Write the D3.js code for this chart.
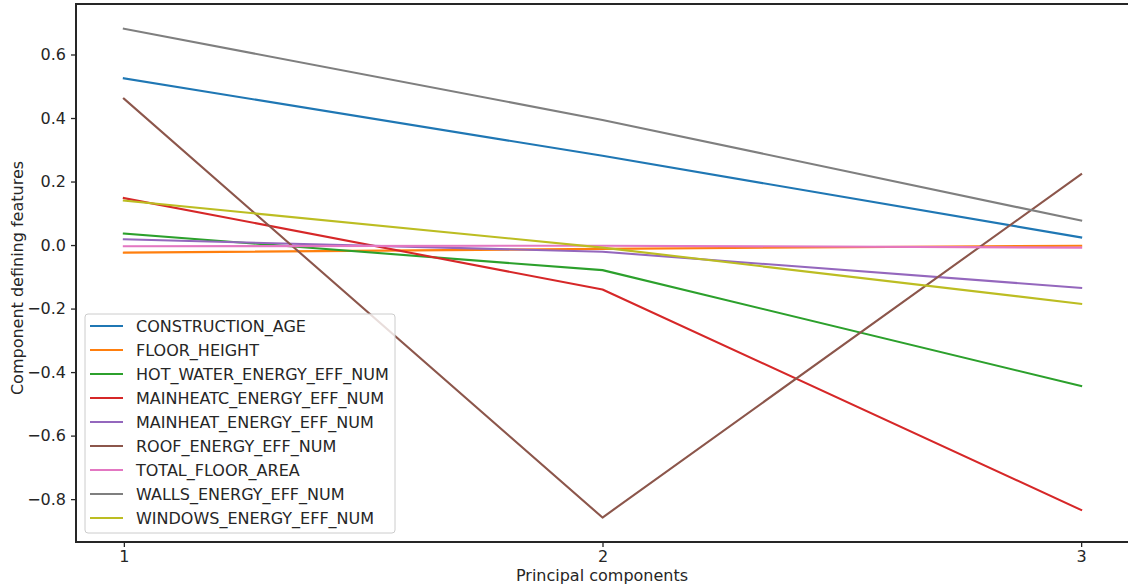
<!DOCTYPE html>
<html>
<head>
<meta charset="utf-8">
<script src="https://cdn.jsdelivr.net/npm/d3@7"></script>
<style>
  html, body { margin: 0; padding: 0; background: #ffffff; }
  svg text { font-family: "DejaVu Sans", sans-serif; fill: #262626; }
</style>
</head>
<body>
<svg id="chart" width="1128" height="586"></svg>
<script>
// Principal component indices
const components = [1, 2, 3];

// Feature names (legend order)
const features = [
  "CONSTRUCTION_AGE",
  "FLOOR_HEIGHT",
  "HOT_WATER_ENERGY_EFF_NUM",
  "MAINHEATC_ENERGY_EFF_NUM",
  "MAINHEAT_ENERGY_EFF_NUM",
  "ROOF_ENERGY_EFF_NUM",
  "TOTAL_FLOOR_AREA",
  "WALLS_ENERGY_EFF_NUM",
  "WINDOWS_ENERGY_EFF_NUM"
];

// Loadings of each feature on components 1..3
const constructionAge  = [0.525, 0.281, 0.024];
const floorHeight      = [-0.024, -0.012, -0.002];
const hotWaterEff      = [0.036, -0.079, -0.444];
const mainheatcEff     = [0.148, -0.140, -0.834];
const mainheatEff      = [0.018, -0.021, -0.135];
const roofEff          = [0.461, -0.858, 0.223];
const totalFloorArea   = [-0.004, -0.002, -0.008];
const wallsEff         = [0.681, 0.394, 0.077];
const windowsEff       = [0.140, -0.008, -0.185];

const seriesValues = [
  constructionAge, floorHeight, hotWaterEff, mainheatcEff, mainheatEff,
  roofEff, totalFloorArea, wallsEff, windowsEff
];

const yTicks = [-0.8, -0.6, -0.4, -0.2, 0.0, 0.2, 0.4, 0.6];

const palette = ["#1f77b4", "#ff7f0e", "#2ca02c", "#d62728", "#9467bd",
                 "#8c564b", "#e377c2", "#7f7f7f", "#bcbd22"];

const svg = d3.select("#chart");
const m = { left: 76, right: 1129, top: 4, bottom: 542 };

const x = d3.scaleLinear().domain([0.9, 3.1]).range([m.left, m.right]);
const y = d3.scaleLinear().domain([-0.935, 0.759]).range([m.bottom, m.top]);

const plot = svg.append("g");

// Series lines
const line = d3.line().x((d, i) => x(components[i])).y(d => y(d));
seriesValues.forEach((vals, k) => {
  plot.append("path")
    .datum(vals)
    .attr("d", line)
    .attr("fill", "none")
    .attr("stroke", palette[k])
    .attr("stroke-width", 2.1)
    .attr("stroke-linecap", "square")
    .attr("stroke-linejoin", "round");
});

// Axes
const fmt = d => (d < 0 ? "\u2212" : "") + Math.abs(d).toFixed(1);
const yAxis = d3.axisLeft(y).tickValues(yTicks).tickFormat(fmt).tickSize(5).tickPadding(5);
const xAxis = d3.axisBottom(x).tickValues(components).tickFormat(d3.format("d")).tickSize(5).tickPadding(4);

const gy = svg.append("g").attr("transform", `translate(${m.left},0)`).call(yAxis);
const gx = svg.append("g").attr("transform", `translate(0,${m.bottom})`).call(xAxis);
[gx, gy].forEach(g => {
  g.select(".domain").remove();
  g.selectAll(".tick line").attr("stroke", "#262626").attr("stroke-width", 1.3);
  g.selectAll(".tick text").style("font-size", "16px").attr("fill", "#262626");
});

// Frame
svg.append("rect")
  .attr("x", m.left).attr("y", m.top)
  .attr("width", m.right - m.left).attr("height", m.bottom - m.top)
  .attr("fill", "none").attr("stroke", "#262626").attr("stroke-width", 2);

// Axis titles
svg.append("text")
  .attr("x", (m.left + m.right) / 2 - 0.5).attr("y", 581)
  .attr("text-anchor", "middle")
  .style("font-size", "16px")
  .text("Principal components");

svg.append("text")
  .attr("transform", `translate(23,${(m.top + m.bottom) / 2 + 5}) rotate(-90)`)
  .attr("text-anchor", "middle")
  .style("font-size", "16px")
  .text("Component defining features");

// Legend
const legend = svg.append("g").attr("transform", "translate(85,314)");
legend.append("rect")
  .attr("width", 310).attr("height", 219).attr("rx", 3)
  .attr("fill", "#ffffff").attr("fill-opacity", 0.8)
  .attr("stroke", "#cccccc").attr("stroke-width", 1);
features.forEach((name, i) => {
  const row = legend.append("g").attr("transform", `translate(0,${12 + i * 24})`);
  row.append("line")
    .attr("x1", 5).attr("x2", 38).attr("y1", 0).attr("y2", 0)
    .attr("stroke", palette[i]).attr("stroke-width", 2.1);
  row.append("text")
    .attr("x", 51).attr("y", 6)
    .style("font-size", "16px")
    .text(name);
});
</script>
</body>
</html>
